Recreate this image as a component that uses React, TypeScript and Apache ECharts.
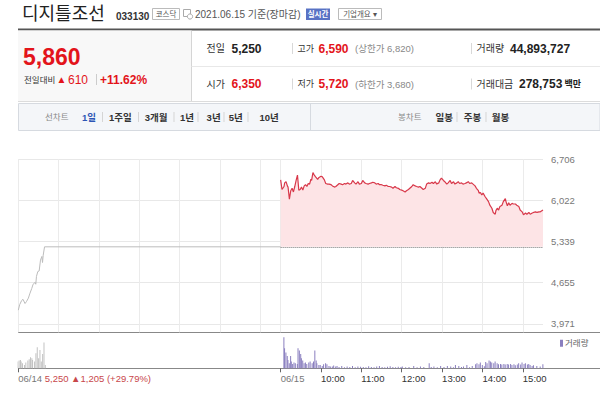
import React, { useEffect, useRef } from 'react';
import * as echarts from 'echarts';

// ---------- data ----------
const DAY_MIN = 390; // one session = 09:00-15:30
const PREV_CLOSE = 5250;
const priceTicks = [3971, 4655, 5339, 6022, 6706];
const gridMinutes = [0, 60, 120, 180, 240, 300, 360, 390, 450, 510, 570, 630, 690, 750];
const labelMinutes = [0, 390, 450, 510, 570, 630, 690, 750];
const labelTexts = ['06/14', '06/15', '10:00', '11:00', '12:00', '13:00', '14:00', '15:00'];
const prevDayNote = '5,250 ▲1,205 (+29.79%)';

// 06/14 (previous session), minutes since 09:00
const day14Times = [0, 2, 5, 7, 10, 12, 15, 17, 20, 22, 25, 26, 27, 29, 31, 33, 35, 36, 37, 39, 390];
const day14Prices = [4200, 4290, 4360, 4380, 4310, 4340, 4400, 4470, 4560, 4630, 4660, 4630, 4760, 4840, 4850, 5030, 5090, 4990, 5110, 5250, 5250];

// 06/15, minutes since 09:00
const day15Times = [0, 2, 5, 6, 8, 10, 11, 13, 15, 17, 19, 21, 23, 25, 27, 29, 31, 33, 35, 37, 39, 41, 43, 45, 46, 48, 50, 52, 55, 57, 60, 62, 65, 67, 70, 72, 75, 77, 80, 82, 85, 87, 90, 92, 95, 97, 100, 102, 105, 107, 110, 112, 115, 117, 120, 122, 125, 127, 130, 132, 135, 137, 140, 142, 145, 147, 150, 152, 155, 157, 160, 162, 165, 167, 170, 172, 175, 177, 180, 182, 185, 187, 190, 192, 195, 197, 200, 202, 205, 207, 210, 212, 215, 217, 220, 222, 225, 227, 230, 232, 235, 237, 239, 242, 244, 247, 249, 252, 254, 257, 259, 262, 264, 266, 269, 271, 274, 276, 279, 281, 284, 286, 289, 291, 294, 295, 297, 299, 301, 304, 306, 309, 311, 314, 316, 319, 320, 322, 324, 326, 329, 331, 334, 335, 337, 339, 341, 344, 346, 349, 351, 354, 356, 359, 361, 364, 366, 369, 371, 374, 376, 379, 381, 384, 386, 390];
const day15Prices = [6360, 6200, 6250, 6310, 6330, 6260, 6240, 6040, 6180, 6220, 6160, 6250, 6350, 6440, 6190, 6200, 6240, 6190, 6260, 6280, 6250, 6300, 6290, 6370, 6350, 6480, 6440, 6410, 6370, 6400, 6420, 6410, 6360, 6300, 6290, 6290, 6280, 6260, 6240, 6250, 6280, 6300, 6290, 6280, 6300, 6290, 6310, 6290, 6300, 6350, 6310, 6290, 6330, 6290, 6300, 6350, 6310, 6300, 6290, 6300, 6310, 6320, 6310, 6290, 6300, 6280, 6280, 6270, 6260, 6270, 6250, 6250, 6240, 6220, 6250, 6230, 6220, 6200, 6190, 6180, 6160, 6180, 6200, 6220, 6250, 6280, 6260, 6250, 6240, 6250, 6220, 6200, 6220, 6290, 6310, 6300, 6320, 6300, 6330, 6290, 6310, 6360, 6390, 6350, 6330, 6290, 6310, 6350, 6300, 6330, 6290, 6310, 6330, 6300, 6310, 6290, 6300, 6310, 6330, 6300, 6310, 6290, 6260, 6220, 6180, 6140, 6150, 6110, 6140, 6080, 6050, 6000, 5940, 5890, 5820, 5790, 5850, 5890, 5860, 5920, 5940, 6000, 6050, 6000, 5930, 5980, 5940, 5970, 5960, 5960, 5940, 5920, 5860, 5830, 5780, 5810, 5790, 5820, 5790, 5810, 5820, 5830, 5820, 5830, 5830, 5860];

// volume (thousand shares)
const vol14Times = [0, 2, 4, 5, 7, 10, 12, 15, 17, 19, 21, 22, 25, 27, 29, 31, 33, 35, 37, 39, 41];
const vol14 = [670, 770, 830, 670, 500, 330, 570, 770, 900, 1100, 1000, 830, 670, 1500, 2100, 1000, 1830, 670, 1430, 2570, 330];
const vol15Times = [4, 5, 7, 9, 10, 12, 14, 15, 17, 19, 21, 24, 25, 27, 29, 30, 32, 34, 36, 38, 41, 43, 46, 48, 50, 52, 53, 56, 58, 61, 63, 66, 68, 71, 73, 76, 78, 81, 83, 86, 90, 94, 98, 102, 106, 110, 114, 118, 122, 126, 130, 134, 138, 142, 146, 150, 154, 158, 162, 166, 170, 174, 178, 180, 185, 190, 197, 202, 207, 212, 220, 223, 227, 232, 237, 242, 247, 252, 256, 259, 264, 268, 271, 276, 280, 284, 289, 291, 294, 296, 299, 302, 304, 306, 309, 311, 313, 316, 318, 321, 323, 326, 328, 331, 333, 336, 338, 341, 343, 346, 348, 351, 353, 356, 358, 361, 363, 366, 368, 370, 373, 375, 380, 385, 389];
const vol15 = [3100, 2000, 1570, 1230, 830, 500, 1230, 670, 430, 570, 500, 430, 2000, 1770, 1430, 1000, 770, 500, 570, 430, 570, 670, 500, 670, 1770, 770, 500, 330, 330, 230, 400, 500, 400, 230, 170, 170, 270, 170, 230, 120, 230, 100, 170, 120, 230, 100, 170, 150, 120, 100, 200, 120, 100, 170, 230, 120, 100, 150, 200, 120, 100, 150, 120, 170, 100, 120, 230, 100, 170, 120, 500, 120, 170, 100, 230, 120, 230, 170, 100, 330, 230, 120, 170, 330, 100, 230, 400, 500, 400, 570, 330, 200, 630, 500, 770, 670, 570, 500, 670, 500, 400, 430, 370, 430, 370, 430, 370, 430, 330, 400, 300, 370, 500, 370, 570, 430, 500, 370, 430, 330, 230, 300, 230, 170, 400];

// header texts
const title = '디지틀조선';
const code = '033130';
const market = '코스닥';
const asOf = '2021.06.15 기준(장마감)';
const current = '5,860';
const change = '610';
const changePct = '+11.62%';
const lineTabs = ['1일', '1주일', '3개월', '1년', '3년', '5년', '10년'];
const candleTabs = ['일봉', '주봉', '월봉'];

// ---------- styling helpers ----------
const FONT = 'Arial, "Liberation Sans", "Noto Sans CJK KR", sans-serif';
const RED = '#e3141b';

const T = (text: string, x: number, y: number, size: number, fill: string, weight = 'normal', align = 'left') => ({
  type: 'text', x, y, silent: true,
  style: {
    text, fill, font: `${weight} ${size}px ${FONT}`,
    textAlign: align, align, textVerticalAlign: 'middle', verticalAlign: 'middle',
  },
});
const R = (x: number, y: number, w: number, h: number, fill: string, stroke?: string) => ({
  type: 'rect', silent: true, shape: { x, y, width: w, height: h },
  style: { fill, stroke: stroke || null, lineWidth: stroke ? 1 : 0 },
});
const L = (x1: number, y1: number, x2: number, y2: number, stroke: string, lineWidth = 1) => ({
  type: 'line', silent: true, shape: { x1, y1, x2, y2 }, style: { stroke, lineWidth },
});

function buildGraphics() {
  const g: any[] = [];
  // title row
  g.push(T(title, 22, 14, 18, '#222'));
  g.push(T(code, 116, 16, 10, '#333', 'bold'));
  g.push(R(152.5, 8.5, 27, 11, '#fff', '#bbb'));
  g.push(T(market, 166, 14.2, 7.5, '#555', 'normal', 'center'));
  g.push(R(183.5, 9.5, 7, 7, '#fff', '#aaa'));
  g.push({ type: 'circle', silent: true, shape: { cx: 190, cy: 16.5, r: 2.6 }, style: { fill: '#fff', stroke: '#aaa', lineWidth: 1 } });
  g.push(T(asOf, 195, 14.5, 10, '#555'));
  g.push(R(306, 8.5, 24, 11.5, '#5872c4'));
  g.push(T('실시간', 318, 14.3, 7.5, '#fff', 'bold', 'center'));
  g.push(R(338.5, 8.5, 43, 11, '#fff', '#bbb'));
  g.push(T('기업개요 ▾', 360, 14.3, 7.5, '#555', 'normal', 'center'));
  g.push(L(18, 29.5, 600, 29.5, '#555', 2));

  // info panel
  g.push(R(18, 30.5, 173, 71, '#f8f8f8'));
  g.push(L(191.5, 30.5, 191.5, 101.5, '#d5d5d5'));
  g.push(L(191.5, 66.5, 600, 66.5, '#e8e8e8'));
  g.push(L(18, 101.5, 600, 101.5, '#dcdcdc'));
  g.push(T(current, 23, 56.5, 23, RED, 'bold'));
  g.push(T('전일대비', 24, 79.5, 8.5, '#333'));
  g.push(T('▲', 56.5, 79.5, 10, RED));
  g.push(T(change, 68, 79.5, 12, RED));
  g.push(L(96.5, 74, 96.5, 85, '#ccc'));
  g.push(T(changePct, 100, 79.5, 12, RED, 'bold'));

  const rows = [
    { y: 48.5, a: ['전일', '5,250', '#222'], b: ['고가', '6,590', '(상한가 6,820)'], c: ['거래량', '44,893,727'] },
    { y: 84, a: ['시가', '6,350', RED], b: ['저가', '5,720', '(하한가 3,680)'], c: ['거래대금', '278,753'] },
  ];
  rows.forEach((r, i) => {
    g.push(T(r.a[0], 206.5, r.y, 10, '#333'));
    g.push(T(r.a[1], 231.5, r.y, 12, r.a[2], 'bold'));
    g.push(L(292.5, r.y - 5.5, 292.5, r.y + 5.5, '#d8d8d8'));
    g.push(T(r.b[0], 297.5, r.y, 9, '#333'));
    g.push(T(r.b[1], 318.5, r.y, 12, RED, 'bold'));
    g.push(T(r.b[2], 355, r.y, 9.5, '#888'));
    g.push(L(471.5, r.y - 5.5, 471.5, r.y + 5.5, '#d8d8d8'));
    g.push(T(r.c[0], 476.5, r.y, 10, '#333'));
    g.push(T(r.c[1], i === 0 ? 510 : 519, r.y, 12, '#222', 'bold'));
    if (i === 1) g.push(T('백만', 564.5, r.y, 9, '#222', 'bold'));
  });

  // tab bar
  g.push(R(18.5, 103.5, 581.5, 27, '#f4f6f9', '#d6dae0'));
  g.push(L(310.5, 104, 310.5, 130, '#d6dae0'));
  g.push(T('선차트', 45, 117, 8.5, '#888'));
  const lineX = [82, 109, 144.7, 180, 206.6, 228.8, 259.5];
  const lineSep = [102.5, 138.5, 174, 198, 224, 248];
  lineTabs.forEach((t, i) => g.push(T(t, lineX[i], 117, 9.5, i === 0 ? '#2d55b5' : '#333', 'bold')));
  lineSep.forEach((x) => g.push(L(x, 112, x, 122, '#d5d5d5')));
  g.push(T('봉차트', 398, 117, 8.5, '#888'));
  const candleX = [435.5, 463.8, 491.8];
  const candleSep = [457, 486];
  candleTabs.forEach((t, i) => g.push(T(t, candleX[i], 117, 9.5, '#333', 'bold')));
  candleSep.forEach((x) => g.push(L(x, 112, x, 122, '#d5d5d5')));

  // panel base lines
  g.push(L(18, 332.5, 600, 332.5, '#888', 1));
  g.push(L(18, 368.5, 600, 368.5, '#888', 1));
  return g;
}

function buildOption() {
  const d14 = day14Times.map((t, i) => [t, day14Prices[i]]);
  const d15 = day15Times.map((t, i) => [DAY_MIN + t, day15Prices[i]]);
  const v14 = vol14Times.map((t, i) => [t, vol14[i]]);
  const v15 = vol15Times.map((t, i) => [DAY_MIN + t, vol15[i]]);

  return {
    animation: false,
    backgroundColor: '#fff',
    textStyle: { fontFamily: FONT },
    grid: [
      { left: 18.3, top: 159, width: 524.7, height: 173.3, outerBoundsMode: 'none' },
      { left: 18.3, top: 332.3, width: 524.7, height: 36, outerBoundsMode: 'none' },
    ],
    legend: {
      data: ['거래량'], left: 560, top: 339, padding: 0, icon: 'rect',
      itemWidth: 3, itemHeight: 7, selectedMode: false,
      textStyle: { fontSize: 8.5, color: '#666', fontFamily: FONT, padding: [0, 0, 0, -3] },
    },
    xAxis: [
      {
        type: 'value', gridIndex: 0, min: 0, max: 2 * DAY_MIN,
        axisLine: { show: false }, axisLabel: { show: false },
        axisTick: { show: false, customValues: gridMinutes },
        splitLine: { show: true, lineStyle: { color: '#ebebeb', width: 1 } },
      },
      {
        type: 'value', gridIndex: 1, min: 0, max: 2 * DAY_MIN,
        axisLine: { show: false }, splitLine: { show: false },
        axisTick: { show: true, customValues: labelMinutes, length: 4, lineStyle: { color: '#666' } },
        axisLabel: {
          customValues: labelMinutes, align: 'left', margin: 5, fontSize: 9.5, color: '#333', fontFamily: FONT,
          formatter: (v: number) => {
            const i = labelMinutes.indexOf(v);
            if (i < 0) return '';
            if (i === 0) return `{d|${labelTexts[0]}} {r|${prevDayNote}}`;
            if (i === 1) return `{d|${labelTexts[1]}}`;
            return labelTexts[i];
          },
          rich: {
            d: { color: '#777', fontSize: 9.5, fontFamily: FONT },
            r: { color: '#c8474a', fontSize: 9.5, fontFamily: FONT },
          },
        },
      },
    ],
    yAxis: [
      {
        type: 'value', gridIndex: 0, position: 'right', min: 3833, max: 6706,
        axisLine: { show: false },
        axisTick: { show: false, customValues: priceTicks },
        axisLabel: {
          customValues: priceTicks, margin: 8, color: '#777', fontSize: 9.5, fontFamily: FONT,
          formatter: (v: number) => Math.round(v).toLocaleString('en-US'),
        },
        splitLine: { show: true, lineStyle: { color: '#e8e8e8', width: 1 } },
      },
      { type: 'value', gridIndex: 1, min: 0, max: 3600, show: false, splitLine: { show: false } },
    ],
    series: [
      {
        name: '06/14', type: 'line', xAxisIndex: 0, yAxisIndex: 0, data: d14,
        showSymbol: false, symbol: 'none', silent: true,
        lineStyle: { color: '#bcbcbc', width: 1 },
      },
      {
        name: '06/15', type: 'line', xAxisIndex: 0, yAxisIndex: 0, data: d15,
        showSymbol: false, symbol: 'none', silent: true, z: 3,
        lineStyle: { color: '#d8384a', width: 1.2 },
        areaStyle: { color: '#fde4e6', opacity: 1, origin: PREV_CLOSE },
        markLine: {
          silent: true, symbol: 'none', label: { show: false },
          lineStyle: { color: '#777', type: 'dotted', width: 1 },
          data: [[{ coord: [DAY_MIN, PREV_CLOSE] }, { coord: [2 * DAY_MIN, PREV_CLOSE] }]],
        },
      },
      {
        name: '거래량(06/14)', type: 'bar', xAxisIndex: 1, yAxisIndex: 1, data: v14,
        barWidth: 1, silent: true, itemStyle: { color: '#c2c2c2' },
      },
      {
        name: '거래량', type: 'bar', xAxisIndex: 1, yAxisIndex: 1, data: v15,
        barWidth: 1, silent: true, itemStyle: { color: '#8a7fbf' },
      },
    ],
    graphic: { elements: buildGraphics() },
  };
}

export default function App() {
  const ref = useRef<HTMLDivElement>(null);
  useEffect(() => {
    if (!ref.current) return;
    const chart = echarts.init(ref.current, null, { renderer: 'svg', width: 600, height: 397 });
    chart.setOption(buildOption() as any);
    return () => chart.dispose();
  }, []);
  return (
    <div
      ref={ref}
      style={{ position: 'fixed', left: 0, top: 0, width: 600, height: 397, background: '#fff' }}
    />
  );
}
